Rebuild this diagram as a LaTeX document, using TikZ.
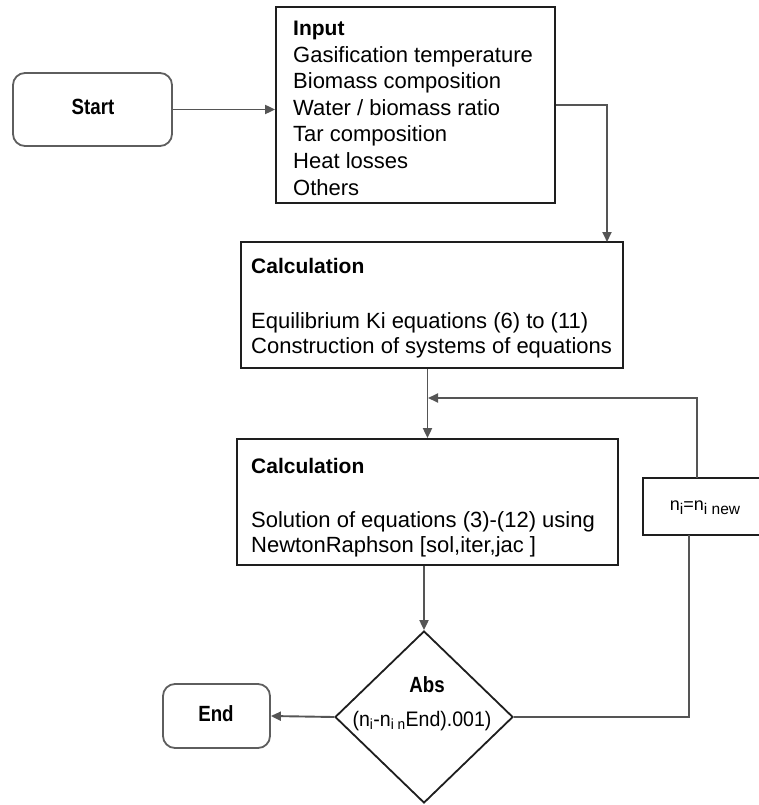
\documentclass[tikz,border=0pt]{standalone}
\usepackage{fontspec}
\setmainfont{Liberation Sans}
\usetikzlibrary{arrows.meta,shapes.geometric}

\definecolor{boxline}{HTML}{1E1E1E}
\definecolor{wire}{HTML}{555555}
\definecolor{termline}{HTML}{5E5E5E}

\tikzset{
  procbox/.style={draw=boxline, line width=1.8pt, fill=white, inner sep=0pt},
  termbox/.style={draw=termline, line width=1.8pt, fill=white, rounded corners=12pt, inner sep=0pt},
  decbox/.style={draw=boxline, line width=1.8pt, fill=white, diamond, inner sep=0pt, shape aspect=1},
  bodytext/.style={anchor=base west, inner sep=0pt, font=\fontsize{22}{26}\selectfont},
  headtext/.style={anchor=base west, inner sep=0pt, font=\fontsize{21}{26}\selectfont\bfseries},
  termtext/.style={inner sep=0pt, font=\fontsize{22}{26}\selectfont\bfseries},
  wireline/.style={draw=wire, line width=1.9pt},
  flow/.style={wireline, -{Triangle[length=10pt,width=9pt]}},
}

\newcommand{\narrow}[1]{\scalebox{0.85}[1]{#1}}
\newcommand{\lowsub}[1]{\raisebox{-4pt}{\fontsize{15.5}{17}\selectfont #1}}

\begin{document}
\begin{tikzpicture}[x=1pt, y=-1pt]
\useasboundingbox (0,0) rectangle (759,805);
\clip (0,0) rectangle (759,805);

% terminals
\node[termbox, minimum width=159pt, minimum height=73pt] (start) at (92.5,109.5) {};
\node[termtext] (starttxt) at (93,107) {\narrow{Start}};
\node[termbox, minimum width=107pt, minimum height=64pt] (end) at (216.5,716) {};
\node[termtext] (endtxt) at (216,714) {\narrow{End}};

% input block
\node[procbox, minimum width=279pt, minimum height=196pt] (input) at (415.5,105) {};
\node[headtext] (inhead) at (293,35.5) {Input};
\foreach \txt [count=\k] in {Gasification temperature, Biomass composition,
    Water / biomass ratio, Tar composition, Heat losses, Others}
  \node[bodytext] (inline\k) at (293,35.5+26.6*\k) {\txt};

% first calculation block
\node[procbox, minimum width=382pt, minimum height=126pt] (calc1) at (432,305) {};
\node[headtext] (c1head) at (251,273) {Calculation};
\node[bodytext] (c1l1) at (251,328) {Equilibrium Ki equations (6) to (11)};
\node[bodytext] (c1l2) at (251,353) {Construction of systems of equations};

% second calculation block
\node[procbox, minimum width=381pt, minimum height=126pt] (calc2) at (427.5,502) {};
\node[headtext] (c2head) at (251,473) {Calculation};
\node[bodytext] (c2l1) at (251,527) {Solution of equations (3)-(12) using};
\node[bodytext] (c2l2) at (251,552) {NewtonRaphson [sol,iter,jac ]};

% update block
\node[procbox, minimum width=124pt, minimum height=57pt] (nibox) at (705,506.5) {};
\node[inner sep=0pt, font=\fontsize{18}{20}\selectfont] (nitxt) at (705,508)
  {n\lowsub{i}=n\lowsub{i new}};

% decision
\node[decbox, minimum width=178pt, minimum height=172pt] (dec) at (424,717) {};
\node[termtext] (abs) at (427,685) {\narrow{Abs}};
\node[inner sep=0pt, font=\fontsize{21}{24}\selectfont] (cond) at (422,721)
  {\scalebox{0.93}[1]{(n\textsubscript{i}-n\textsubscript{i n}End).001)}};

% connector end points
\coordinate (c1in) at (607,242);
\coordinate (fbbot) at (689,535);
\coordinate (fbtop) at (697,478);
\coordinate (merge) at (428,398);

% connectors
\draw[flow] (start.east) -- (start.east -| input.west);
\draw[flow] (input.east) -| (c1in);
\draw[flow] (calc1.south -| calc2.north) -- (calc2.north);
\draw[flow] (calc2.south -| dec.north) -- (dec.north);
\draw[flow] (dec.west) -- (end.east);
\draw[wireline] (dec.east) -| (fbbot);
\draw[flow] (fbtop) |- (merge);
\end{tikzpicture}
\end{document}
